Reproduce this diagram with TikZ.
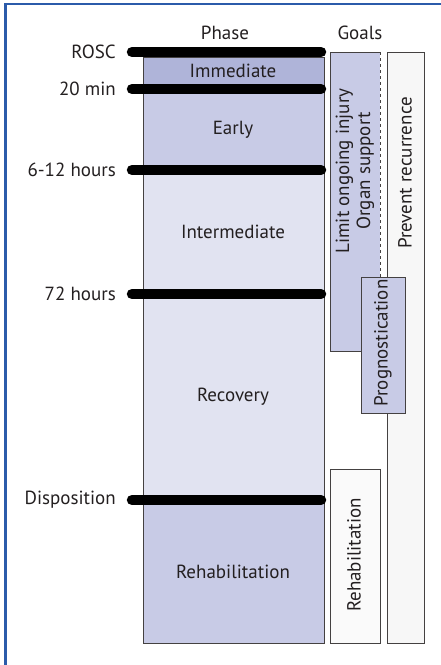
\documentclass[tikz,border=0pt]{standalone}
\usepackage{fontspec}
\setmainfont{PT Sans}
\usetikzlibrary{positioning}

\definecolor{frameblue}{HTML}{2B5BAA}
\definecolor{phasedark}{HTML}{AFB4D9}
\definecolor{phasemid}{HTML}{C8CBE6}
\definecolor{phaselight}{HTML}{E1E3F1}
\definecolor{goalwhite}{HTML}{F7F7F7}
\definecolor{inkgray}{HTML}{231F20}

\tikzset{
    edgebox/.style={draw=inkgray!85, line width=0.9pt},
    timebar/.style={line width=10.5pt, line cap=round},
    lbl/.style={inner sep=0pt, text=inkgray},
}

\begin{document}
\begin{tikzpicture}[x=1pt, y=-1pt, font=\fontsize{19}{21}\selectfont]

\useasboundingbox (0,0) rectangle (441,665);

% --- Frame ---
\draw[frameblue, line width=2.6pt] (5.3,665) -- (5.3,4) -- (441,4);

% --- Phase column ---
\fill[phasedark]  (143,57)  rectangle (324,89);
\fill[phasemid]   (143,89)  rectangle (324,170);
\fill[phaselight] (143,170) rectangle (324,500);
\fill[phasemid]   (143,500) rectangle (324,643);
\draw[edgebox] (143,57) rectangle (324,643);

% Phase header and labels
\node[lbl] (phase) at (225,33) {Phase};
\node[lbl] (immediate) at (233,71) {Immediate};
\node[lbl] (early) at (233,130) {Early};
\node[lbl] (intermediate) at (233,232) {Intermediate};
\node[lbl] (recovery) at (233,397) {Recovery};
\node[lbl] (rehab) at (233,572) {Rehabilitation};

% Time bars and time labels
\foreach \y/\when in {52/ROSC, 89/20 min, 170/6-12 hours, 294/72 hours, 500/Disposition}
{
    \draw[timebar] (132,\y) -- (321,\y);
    \node[lbl, anchor=east] (t\y) at (116,\y) {\when};
}

% --- Goals column ---
\node[lbl] (goals) at (360,33) {Goals};

% Limit ongoing injury / Organ support
\fill[phasemid] (330,52) rectangle (380,351);
\draw[edgebox] (380,52) -- (330,52) -- (330,351) -- (380,351);
\draw[edgebox, dashed, line width=0.6pt] (380,52) -- (380,351);
\node[lbl, rotate=90, align=center] (limit) at (355,171)
    {Limit ongoing injury\\Organ support};

% Prevent recurrence
\draw[edgebox, fill=goalwhite] (387,52) rectangle (424,643);
\node[lbl, rotate=90] (prevent) at (405,173) {Prevent recurrence};

% Prognostication, on top of the others
\draw[edgebox, fill=phasemid] (361,277) rectangle (405,413);
\node[lbl, rotate=90] (prognosis) at (383,343) {Prognostication};

% Rehabilitation goal
\draw[edgebox, fill=goalwhite!60!white] (330,469) rectangle (380,643);
\node[lbl, rotate=90] (rehabgoal) at (354,555) {Rehabilitation};

\end{tikzpicture}
\end{document}
